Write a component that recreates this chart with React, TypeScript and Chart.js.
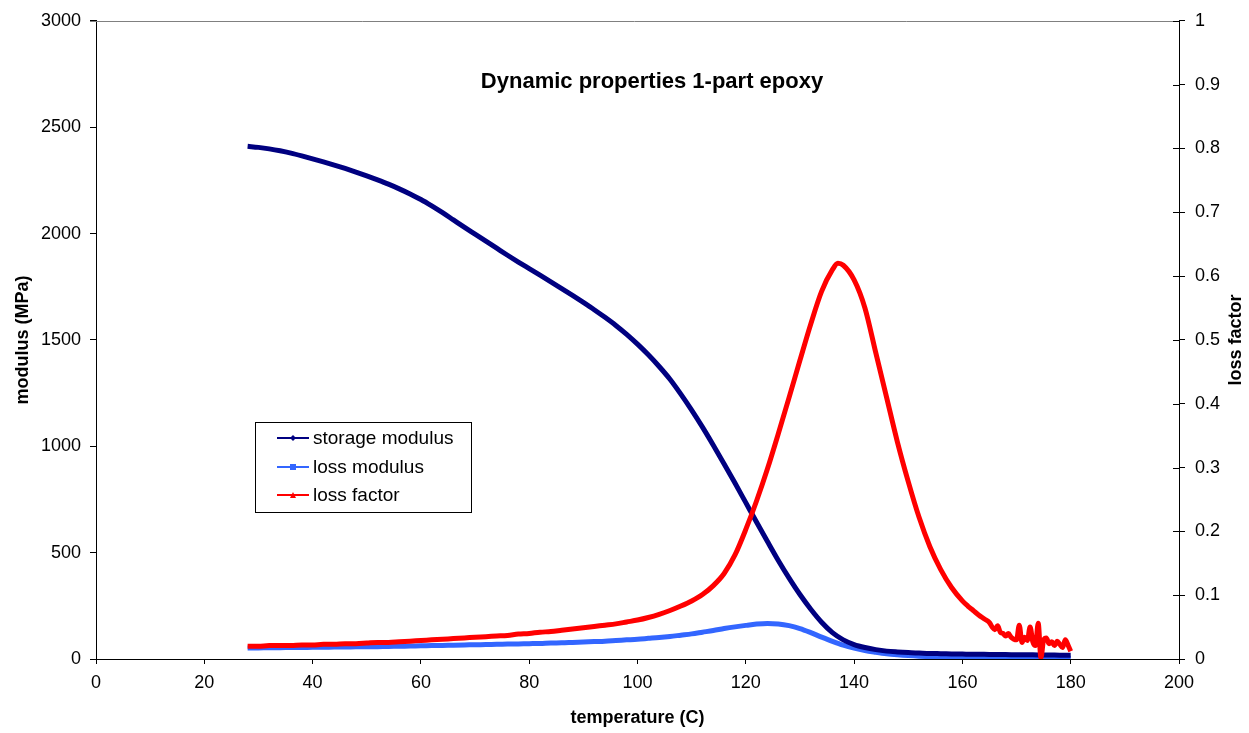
import React, { useEffect, useRef } from 'react';
import { Chart, registerables } from 'chart.js';

Chart.register(...registerables);

const FONT = '"Liberation Sans", Arial, Helvetica, sans-serif';

const chartTitle = 'Dynamic properties 1-part epoxy';
const xTitle = 'temperature (C)';
const yLeftTitle = 'modulus (MPa)';
const yRightTitle = 'loss factor';
const seriesNames = ['storage modulus', 'loss modulus', 'loss factor'];
const seriesColors = ['#000080', '#3366FF', '#FF0000'];

// temperatures (C) for the modulus curves
const modTemps = [
  28, 30, 32, 34, 36, 38, 40, 42, 44, 46, 48, 50, 52, 54, 56, 58, 60, 62, 64, 66,
  68, 70, 72, 74, 76, 78, 80, 82, 84, 86, 88, 90, 92, 94, 96, 98, 100, 102, 104, 106,
  108, 110, 112, 114, 116, 118, 120, 122, 124, 126, 128, 130, 132, 134, 136, 138, 140, 142, 144, 146,
  148, 150, 152, 154, 156, 158, 160, 162, 164, 166, 168, 170, 172, 174, 176, 178, 180,
];

// storage modulus (MPa)
const storageModulus = [
  2410, 2405, 2398, 2389, 2378, 2365, 2351, 2337, 2322, 2306, 2289, 2271, 2252, 2232, 2210, 2186, 2160, 2130, 2098, 2064,
  2030, 1997, 1964, 1931, 1898, 1866, 1835, 1804, 1773, 1741, 1709, 1676, 1642, 1606, 1568, 1526, 1480, 1430, 1375, 1315,
  1245, 1170, 1090, 1005, 917, 827, 735, 643, 552, 463, 380, 303, 234, 173, 124, 90, 68, 54, 44, 37,
  33, 30, 28, 26, 25, 24, 23, 22, 22, 21, 21, 20, 20, 19, 19, 18, 18,
];

// loss modulus (MPa)
const lossModulus = [
  52, 52, 53, 53, 54, 54, 55, 55, 56, 56, 57, 57, 58, 59, 60, 61, 62, 63, 64, 65,
  66, 67, 68, 69, 70, 71, 72, 73, 75, 76, 78, 80, 82, 84, 87, 90, 93, 97, 101, 106,
  112, 118, 126, 134, 143, 151, 158, 164, 167, 165, 157, 143, 124, 103, 83, 65, 51, 40, 32, 25,
  20, 16, 13, 11, 9, 8, 7, 6, 6, 5, 5, 5, 4, 4, 4, 4, 4,
];

// temperatures (C) for the loss factor curve
const lfTemps = [
  28, 30, 32, 34, 36, 38, 40, 42, 44, 46, 48, 50, 52, 54, 56, 58, 60, 62, 64, 66,
  68, 70, 72, 74, 76, 78, 80, 82, 84, 86, 88, 90, 92, 94, 96, 98, 100, 102, 104, 106,
  108, 110, 112, 114, 116, 118, 120, 122, 124, 126, 128, 130, 132, 134, 136, 137, 138, 140, 142, 144,
  146, 148, 150, 152, 154, 156, 158, 160, 161, 162, 163, 164, 165, 165.5, 166, 166.5, 167, 167.5, 168, 168.5,
  169, 169.5, 170, 170.5, 171, 171.5, 172, 172.5, 173, 173.5, 174, 174.5, 175, 175.5, 176, 176.5, 177, 177.5, 178, 178.5,
  179, 179.5, 180,
];

// loss factor (tan delta)
const lossFactor = [
  0.020, 0.020, 0.021, 0.021, 0.021, 0.022, 0.022, 0.023, 0.023, 0.024, 0.024, 0.025, 0.026, 0.026, 0.027, 0.028, 0.029, 0.030, 0.031, 0.032,
  0.033, 0.034, 0.035, 0.036, 0.037, 0.039, 0.040, 0.042, 0.043, 0.045, 0.047, 0.049, 0.051, 0.053, 0.055, 0.058, 0.061, 0.065, 0.070, 0.076,
  0.083, 0.091, 0.101, 0.115, 0.134, 0.163, 0.203, 0.248, 0.298, 0.353, 0.410, 0.468, 0.525, 0.576, 0.610, 0.620, 0.617, 0.594, 0.550, 0.480,
  0.410, 0.340, 0.278, 0.222, 0.176, 0.140, 0.112, 0.091, 0.083, 0.076, 0.069, 0.063, 0.057, 0.050, 0.046, 0.052, 0.042, 0.040, 0.036, 0.040,
  0.034, 0.031, 0.030, 0.053, 0.026, 0.034, 0.029, 0.050, 0.027, 0.021, 0.056, 0.002, 0.030, 0.033, 0.024, 0.027, 0.021, 0.028, 0.023, 0.018,
  0.030, 0.022, 0.012,
];

const xRange = { min: 0, max: 200, step: 20 };
const yLeftRange = { min: 0, max: 3000, step: 500 };
const yRightRange = { min: 0, max: 1, step: 0.1 };

const PLOT = { left: 96, right: 1179, top: 19, bottom: 659 };
const W = 1249;
const H = 733;

const fmt = (v: number) => String(Math.round(v * 1000) / 1000);

const decorPlugin = {
  id: 'decor',
  afterDraw(chart: any) {
    const ctx = chart.ctx as CanvasRenderingContext2D;
    const area = chart.chartArea;
    ctx.save();
    // top border of plot area
    ctx.strokeStyle = '#808080';
    ctx.lineWidth = 1;
    ctx.beginPath();
    ctx.moveTo(area.left - 6, Math.round(area.top) + 0.5);
    ctx.lineTo(area.right, Math.round(area.top) + 0.5);
    ctx.stroke();

    // inner half of right axis ticks (cross ticks)
    const y1 = chart.scales.y1;
    ctx.strokeStyle = '#000';
    ctx.beginPath();
    y1.ticks.forEach((t: any) => {
      const py = Math.round(y1.getPixelForValue(t.value)) + 0.5;
      ctx.moveTo(area.right - 6, py);
      ctx.lineTo(area.right, py);
    });
    ctx.stroke();

    // chart title
    ctx.fillStyle = '#000';
    ctx.font = `bold 22px ${FONT}`;
    ctx.textAlign = 'center';
    ctx.textBaseline = 'alphabetic';
    ctx.fillText(chartTitle, 652, 88);

    // right axis title (reads bottom to top)
    ctx.save();
    ctx.translate(1236, (area.top + area.bottom) / 2);
    ctx.rotate(-Math.PI / 2);
    ctx.font = `bold 18px ${FONT}`;
    ctx.textAlign = 'center';
    ctx.textBaseline = 'middle';
    ctx.fillText(yRightTitle, 0, 0);
    ctx.restore();

    // legend
    const box = { x: 255, y: 422, w: 216, h: 90 };
    ctx.fillStyle = '#fff';
    ctx.fillRect(box.x, box.y, box.w, box.h);
    ctx.strokeStyle = '#000';
    ctx.lineWidth = 1;
    ctx.strokeRect(box.x + 0.5, box.y + 0.5, box.w, box.h);
    const rows = [438, 467, 495];
    seriesNames.forEach((name, i) => {
      const y = rows[i];
      const c = seriesColors[i];
      ctx.strokeStyle = c;
      ctx.fillStyle = c;
      ctx.lineWidth = 2;
      ctx.beginPath();
      ctx.moveTo(277, y);
      ctx.lineTo(309, y);
      ctx.stroke();
      const mx = 293;
      ctx.beginPath();
      if (i === 0) {
        ctx.moveTo(mx, y - 3);
        ctx.lineTo(mx + 3, y);
        ctx.lineTo(mx, y + 3);
        ctx.lineTo(mx - 3, y);
      } else if (i === 1) {
        ctx.rect(mx - 3, y - 3, 6, 6);
      } else {
        ctx.moveTo(mx, y - 3);
        ctx.lineTo(mx + 3, y + 3);
        ctx.lineTo(mx - 3, y + 3);
      }
      ctx.closePath();
      ctx.fill();
      ctx.fillStyle = '#000';
      ctx.font = `19px ${FONT}`;
      ctx.textAlign = 'left';
      ctx.textBaseline = 'middle';
      ctx.fillText(name, 313, y + 1);
    });
    ctx.restore();
  },
};

export default function App() {
  const ref = useRef<HTMLCanvasElement | null>(null);

  useEffect(() => {
    document.body.style.margin = '0';
    document.body.style.overflow = 'hidden';
    const canvas = ref.current;
    if (!canvas) return;

    const storagePts = modTemps.map((t, i) => ({ x: t, y: storageModulus[i] }));
    const lossModPts = modTemps.map((t, i) => ({ x: t, y: lossModulus[i] }));
    const lossFactorPts = lfTemps.map((t, i) => ({ x: t, y: lossFactor[i] }));

    const tickFont = { family: FONT, size: 18 };
    const titleFont = { family: FONT, size: 18, weight: 'bold' as const };

    const chart = new Chart(canvas, {
      type: 'line',
      data: {
        datasets: [
          {
            label: seriesNames[0],
            data: storagePts,
            borderColor: seriesColors[0],
            backgroundColor: seriesColors[0],
            borderWidth: 5,
            pointRadius: 0,
            cubicInterpolationMode: 'monotone',
            yAxisID: 'y',
            order: 2,
          },
          {
            label: seriesNames[1],
            data: lossModPts,
            borderColor: seriesColors[1],
            backgroundColor: seriesColors[1],
            borderWidth: 5,
            pointRadius: 0,
            cubicInterpolationMode: 'monotone',
            yAxisID: 'y',
            order: 3,
          },
          {
            label: seriesNames[2],
            data: lossFactorPts,
            borderColor: seriesColors[2],
            backgroundColor: seriesColors[2],
            borderWidth: 5,
            pointRadius: 0,
            cubicInterpolationMode: 'monotone',
            yAxisID: 'y1',
            order: 1,
          },
        ],
      },
      options: {
        responsive: false,
        animation: false,
        devicePixelRatio: 1,
        layout: { padding: { top: PLOT.top, left: 0, right: 0, bottom: 0 } },
        plugins: {
          legend: { display: false },
          tooltip: { enabled: false },
          title: { display: false },
        },
        scales: {
          x: {
            type: 'linear',
            min: xRange.min,
            max: xRange.max,
            afterFit: (s: any) => { s.height = H - PLOT.bottom; },
            ticks: { stepSize: xRange.step, color: '#000', font: tickFont, padding: 8, maxRotation: 0, callback: (v: any) => fmt(Number(v)) },
            grid: { drawOnChartArea: false, drawTicks: true, tickLength: 5, color: '#000' },
            border: { display: true, color: '#000', width: 1 },
            title: { display: true, text: xTitle, color: '#000', font: titleFont, padding: { top: 0, bottom: 4 } },
          },
          y: {
            type: 'linear',
            position: 'left',
            min: yLeftRange.min,
            max: yLeftRange.max,
            afterFit: (s: any) => { s.width = PLOT.left; },
            ticks: { stepSize: yLeftRange.step, color: '#000', font: tickFont, padding: 9, callback: (v: any) => fmt(Number(v)) },
            grid: { drawOnChartArea: false, drawTicks: true, tickLength: 6, color: '#000' },
            border: { display: true, color: '#000', width: 1 },
            title: { display: true, text: yLeftTitle, color: '#000', font: titleFont, padding: { top: 12, bottom: 0 } },
          },
          y1: {
            type: 'linear',
            position: 'right',
            min: yRightRange.min,
            max: yRightRange.max,
            afterFit: (s: any) => { s.width = W - PLOT.right; },
            ticks: { stepSize: yRightRange.step, color: '#000', font: tickFont, padding: 10, callback: (v: any) => fmt(Number(v)) },
            grid: { drawOnChartArea: false, drawTicks: true, tickLength: 6, color: '#000' },
            border: { display: true, color: '#000', width: 1 },
            title: { display: false, text: yRightTitle },
          },
        },
      },
      plugins: [decorPlugin],
    });

    return () => chart.destroy();
  }, []);

  return (
    <div style={{ width: W, height: H, background: '#fff' }}>
      <canvas ref={ref} width={W} height={H} style={{ display: 'block', width: W, height: H }} />
    </div>
  );
}
